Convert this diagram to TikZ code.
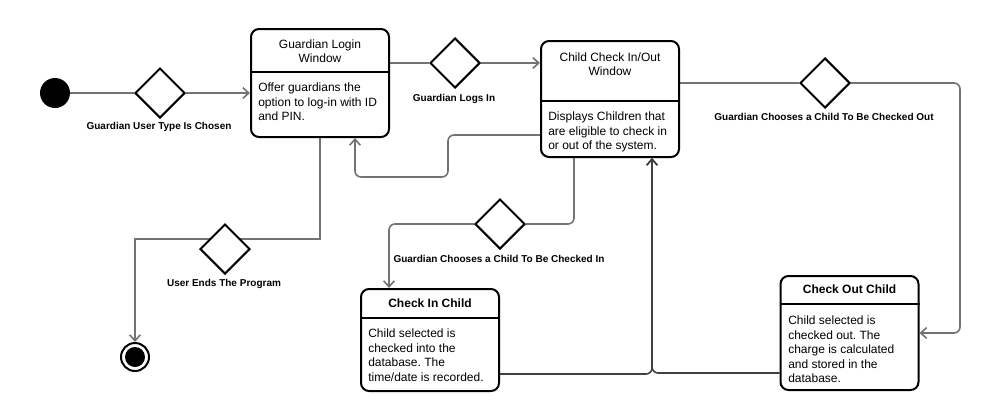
\documentclass[tikz,border=0pt]{standalone}
\usepackage{fontspec}
\setmainfont{Liberation Sans}
\frenchspacing
\usetikzlibrary{arrows.meta,shapes.geometric,backgrounds}

\tikzset{
  state/.style={draw, line width=1.5pt, rounded corners=6pt, minimum width=103.5pt, inner sep=0pt},
  head/.style={align=center, font=\fontsize{9}{10.8}\selectfont},
  body/.style={anchor=north west, align=left, inner sep=0pt, font=\fontsize{9}{10.8}\selectfont},
  divider/.style={line width=1.5pt},
  choice/.style={diamond, draw, fill=white, line width=1.5pt, minimum size=37.5pt, inner sep=0pt},
  guard/.style={font=\bfseries\fontsize{7.5}{9}\selectfont},
  initial/.style={circle, fill, minimum size=22.5pt, inner sep=0pt},
  final/.style={circle, draw, line width=1.5pt, minimum size=21pt, inner sep=0pt,
    path picture={\fill (path picture bounding box.center) circle (7.5pt);}},
  flow/.style={draw=black!55, line width=1.2pt, rounded corners=4.5pt},
  flowto/.style={flow, -{Straight Barb[length=4.5pt,width=8pt]}}
}

\begin{document}
\begin{tikzpicture}[x=0.75pt, y=-0.75pt]
  \useasboundingbox (0,0) rectangle (984,419);

  \node[initial] (start) at (55,93) {};
  \node[final] (stop) at (135,357) {};

  \node[state, minimum height=81pt] (login) at (320,83) {};
  \node[head] (loginhead) at (320,51) {Guardian Login\\Window};
  \draw[divider] (login.west |- 0,72) -- (login.east |- 0,72);
  \node[body] (loginbody) at (258,83) {Offer guardians the\\option to log-in with ID\\and PIN.};

  \node[state, minimum height=87pt] (checkio) at (610,99) {};
  \node[head] (checkiohead) at (610,64) {Child Check In/Out\\Window};
  \draw[divider] (checkio.west |- 0,101) -- (checkio.east |- 0,101);
  \node[body] (checkiobody) at (548,112) {Displays Children that\\are eligible to check in\\or out of the system.};

  \node[state, minimum height=76.5pt] (checkin) at (430,340) {};
  \node[head, font=\bfseries\fontsize{9}{10.8}\selectfont] (checkinhead) at (430,303) {Check In Child};
  \draw[divider] (checkin.west |- 0,318) -- (checkin.east |- 0,318);
  \node[body] (checkinbody) at (368,329) {Child selected is\\checked into the\\database. The\\time/date is recorded.};

  \node[state, minimum height=85.5pt] (checkout) at (849.5,333) {};
  \node[head, font=\bfseries\fontsize{9}{10.8}\selectfont] (checkouthead) at (849.5,289) {Check Out Child};
  \draw[divider] (checkout.west |- 0,304) -- (checkout.east |- 0,304);
  \node[body] (checkoutbody) at (788,316) {Child selected is\\checked out. The\\charge is calculated\\and stored in the\\database.};

  \node[choice] (d1) at (160,93) {};
  \node[choice] (d2) at (455,63) {};
  \node[choice] (d3) at (825,83) {};
  \node[choice] (d4) at (225,249) {};
  \node[choice] (d5) at (500,224) {};

  \node[guard] (l1) at (159,127) {Guardian User Type Is Chosen};
  \node[guard] (l2) at (454,99) {Guardian Logs In};
  \node[guard] (l3) at (824,117) {Guardian Chooses a Child To Be Checked Out};
  \node[guard] (l4) at (224,284) {User Ends The Program};
  \node[guard] (l5) at (499,259) {Guardian Chooses a Child To Be Checked In};

  \coordinate (c3) at (960,333);

  \begin{scope}[on background layer]
    \draw[flow] (start) -- (d1);
    \draw[flowto] (d1) -- (d1 -| login.west);
    \draw[flow] (login.east |- d2) -- (d2);
    \draw[flowto] (d2) -- (d2 -| checkio.west);
    \draw[flowto] ([yshift=-27pt]checkio.west) -- ++(-92,0) -- ++(0,42) -| ([xshift=26.25pt]login.south);
    \draw[flow] (checkio.east |- d3) -- (d3);
    \draw[flowto] (d3) -| (c3) -- (checkout.east);
    \draw[flow] ([xshift=-27pt]checkio.south) |- (d5);
    \draw[flowto] (d5) -| ([xshift=-30.75pt]checkin.north);
    \draw[flowto, draw=black!75] ([yshift=-25.5pt]checkin.east) -| ([xshift=31.5pt]checkio.south);
    \draw[flowto, draw=black!75] ([yshift=-30pt]checkout.west) -| ([xshift=31.5pt]checkio.south);
    \draw[flowto, sharp corners] (login.south) |- ([yshift=7.5pt]d4.center) -| (stop.north);
  \end{scope}
\end{tikzpicture}
\end{document}
